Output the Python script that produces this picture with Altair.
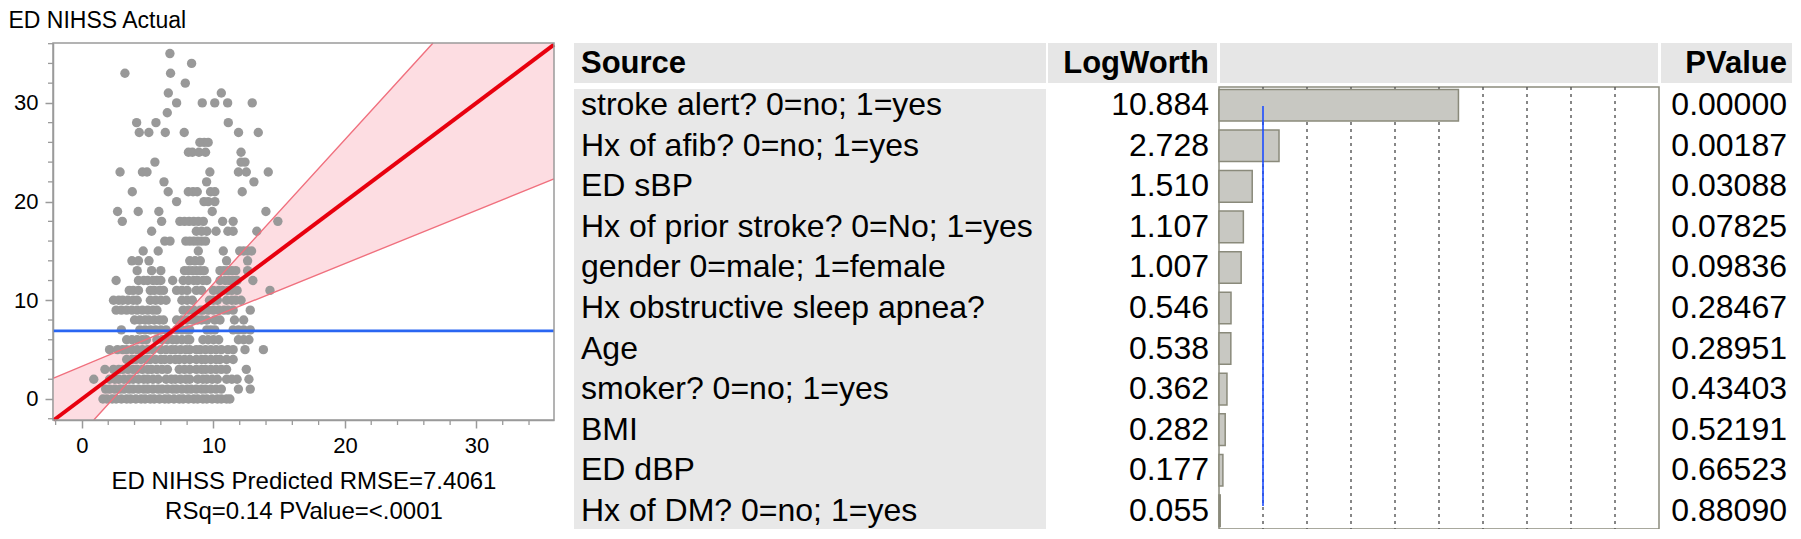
import altair as alt
import pandas as pd

W, H = 1784, 521
FONT = "Liberation Sans"

# ---------------- Actual by Predicted plot ----------------
# predicted values of the points that lie on each integer actual value
pred_at_0 = [1.6, 1.9, 2.3, 2.6, 3.0, 3.4, 3.7, 4.1, 4.5, 4.8, 5.2, 5.5, 5.9, 6.3, 6.6, 7.0, 7.4, 7.7, 8.1, 8.5, 8.8, 9.2, 9.5, 9.9, 10.3, 10.6, 11.0, 11.25]
pred_at_1 = [1.8, 2.1, 2.5, 2.9, 3.2, 3.6, 3.9, 4.3, 4.7, 5.0, 5.4, 5.8, 6.1, 6.5, 6.9, 7.2, 7.6, 8.0, 8.3, 8.7, 9.1, 9.4, 9.8, 10.2, 10.6, 11.9, 12.8]
pred_at_2 = [0.9, 2.1, 2.5, 2.8, 3.2, 3.6, 3.9, 4.3, 4.7, 5.0, 5.4, 5.8, 6.4, 6.8, 7.1, 7.5, 7.9, 8.2, 8.8, 9.2, 9.5, 9.9, 10.3, 11.0, 11.4, 11.8, 12.7]
pred_at_3 = [1.75, 2.4, 2.8, 3.1, 3.5, 3.9, 4.2, 4.6, 5.0, 5.3, 5.7, 6.1, 6.5, 7.4, 7.8, 8.2, 8.7, 9.1, 9.4, 9.8, 10.2, 10.6, 11.0, 12.5]
pred_at_4 = [3.4, 3.8, 4.1, 4.5, 4.9, 5.2, 5.6, 6.0, 6.3, 6.7, 7.1, 7.4, 7.8, 8.2, 8.7, 9.1, 9.4, 9.8, 10.2, 10.5, 11.0, 11.5]
pred_at_5 = [2.1, 2.7, 3.1, 3.4, 3.8, 4.2, 4.6, 5.0, 5.4, 6.0, 6.4, 6.8, 7.1, 7.5, 7.9, 8.2, 8.7, 9.0, 9.4, 9.8, 10.2, 10.6, 11.1, 11.5, 12.4, 13.8]
pred_at_6 = [3.4, 3.8, 4.2, 4.6, 4.9, 5.7, 6.1, 6.5, 6.9, 7.2, 7.6, 8.0, 8.2, 9.2, 9.6, 10.0, 10.4, 11.9, 12.3, 12.7]
pred_at_7 = [3.0, 4.4, 4.8, 5.2, 5.6, 6.0, 6.4, 7.2, 7.6, 8.0, 8.2, 9.5, 9.8, 10.1, 11.5, 11.9, 12.3, 12.8]
pred_at_8 = [4.0, 4.4, 4.8, 5.1, 5.5, 5.9, 6.2, 7.2, 7.6, 8.0, 8.4, 8.8, 9.1, 9.5, 10.1, 10.5, 11.6, 12.3]
pred_at_9 = [2.6, 3.0, 3.4, 3.8, 4.2, 4.6, 5.0, 5.4, 5.7, 7.7, 8.1, 8.5, 9.0, 9.2, 9.6, 10.0, 10.4, 10.8, 11.1, 11.5, 12.8]
pred_at_10 = [2.4, 2.8, 3.1, 3.5, 3.9, 4.2, 5.2, 5.6, 6.0, 6.4, 7.6, 8.0, 8.4, 9.7, 10.0, 10.3, 11.0, 11.4, 11.7, 12.1]
pred_at_11 = [3.6, 3.9, 4.3, 5.2, 5.5, 5.9, 6.2, 7.2, 7.6, 8.0, 8.7, 9.1, 10.0, 10.4, 10.7, 11.1, 11.4, 11.8, 14.3]
pred_at_12 = [2.6, 4.3, 4.7, 5.0, 5.4, 5.7, 6.0, 6.9, 7.7, 8.1, 8.5, 8.8, 9.2, 9.5, 10.5, 10.9, 11.2, 11.5, 11.8, 13.0]
pred_at_13 = [4.2, 5.3, 6.0, 7.8, 8.1, 8.4, 8.7, 9.0, 9.3, 10.5, 10.8, 11.1, 11.4, 11.7, 12.6]
pred_at_14 = [3.8, 4.3, 5.1, 8.2, 8.6, 9.0, 11.0, 12.6]
pred_at_15 = [4.66, 5.8, 8.85, 10.75, 12.0, 12.3, 12.6, 12.9]
pred_at_16 = [6.3, 6.7, 7.9, 8.2, 8.5, 8.8, 9.1, 9.4]
pred_at_17 = [5.3, 8.7, 9.1, 9.5, 10.2, 11.1, 11.5, 13.3]
pred_at_18 = [3.07, 6.06, 7.45, 7.8, 8.15, 8.5, 8.85, 9.23, 10.7, 11.5, 14.9]
pred_at_19 = [2.71, 4.28, 5.85, 9.91, 13.99]
pred_at_20 = [7.2, 9.28, 9.6, 10.11]
pred_at_21 = [3.83, 6.56, 8.09, 8.45, 8.77, 9.78, 10.11, 12.19]
pred_at_22 = [6.24, 9.48, 13.08]
pred_at_23 = [2.9, 4.6, 4.95, 9.73, 11.9, 12.5, 14.17]
pred_at_24 = [5.55, 12.1, 12.4]
pred_at_25 = [8.1, 8.4, 8.9, 9.4, 12.1]
pred_at_26 = [8.97, 9.3, 9.6]
pred_at_27 = [4.36, 5.09, 6.34, 7.78, 11.91, 13.41]
pred_at_28 = [4.16, 5.63, 11.13]
pred_at_29 = [6.49]
pred_at_30 = [7.2, 9.15, 10.1, 11.08, 12.95]
pred_at_31 = [6.57, 10.6]
pred_at_32 = [7.86]
pred_at_33 = [3.27, 6.74]
pred_at_34 = [8.34]
pred_at_35 = [6.69]

pred_rows = [pred_at_0, pred_at_1, pred_at_2, pred_at_3, pred_at_4, pred_at_5, pred_at_6,
             pred_at_7, pred_at_8, pred_at_9, pred_at_10, pred_at_11, pred_at_12, pred_at_13,
             pred_at_14, pred_at_15, pred_at_16, pred_at_17, pred_at_18, pred_at_19, pred_at_20,
             pred_at_21, pred_at_22, pred_at_23, pred_at_24, pred_at_25, pred_at_26, pred_at_27,
             pred_at_28, pred_at_29, pred_at_30, pred_at_31, pred_at_32, pred_at_33, pred_at_34,
             pred_at_35]

x_domain = [-2.2, 35.9]
y_domain = [-2.13, 36.07]
x_major = [0, 10, 20, 30]
y_major = [0, 10, 20, 30]
x_minor = [-2, 2, 4, 6, 8, 12, 14, 16, 18, 22, 24, 26, 28, 32, 34]
y_minor = [-2, 2, 4, 6, 8, 12, 14, 16, 18, 22, 24, 26, 28, 32, 34, 36]

fit_x = [-2.13, 35.9]
fit_y = [-2.13, 35.9]
mean_actual = 6.9

# confidence region (clipped to the frame)
band_x = [-2.2, 0.9, 6.9, 26.7, 35.9]
band_hi = [2.08, 3.72, 7.15, 36.07, 36.07]
band_lo = [-2.13, -2.13, 6.65, 17.4, 22.3]
upper_x = [-2.2, 6.9, 26.7]
upper_y = [2.08, 7.15, 36.07]
lower_x = [0.9, 6.9, 35.9]
lower_y = [-2.13, 6.65, 22.3]

x_title = ["ED NIHSS Predicted RMSE=7.4061", "RSq=0.14 PValue=<.0001"]
y_title = "ED NIHSS Actual"

# ---------------- Effect summary table ----------------
headers = ["Source", "LogWorth", "PValue"]
sources = ["stroke alert? 0=no; 1=yes", "Hx of afib? 0=no; 1=yes", "ED sBP",
           "Hx of prior stroke? 0=No; 1=yes", "gender 0=male; 1=female",
           "Hx obstructive sleep apnea?", "Age", "smoker? 0=no; 1=yes", "BMI",
           "ED dBP", "Hx of DM? 0=no; 1=yes"]
logworth = [10.884, 2.728, 1.510, 1.107, 1.007, 0.546, 0.538, 0.362, 0.282, 0.177, 0.055]
pvalue = [0.00000, 0.00187, 0.03088, 0.07825, 0.09836, 0.28467, 0.28951, 0.43403, 0.52191, 0.66523, 0.88090]
lw_domain = [0, 20]
lw_grid = [2, 4, 6, 8, 10, 12, 14, 16, 18]
lw_ref = [2]

# ---------------- scatter layers ----------------
PLOT_L, PLOT_R, PLOT_T, PLOT_B = 45, 546, 35, 412
pts = pd.DataFrame([{"pred": p, "actual": a} for a, row in enumerate(pred_rows) for p in row])

xs = alt.Scale(domain=x_domain, range=[PLOT_L, PLOT_R], nice=False, zero=False)
ys = alt.Scale(domain=y_domain, range=[PLOT_B, PLOT_T], nice=False, zero=False)
AX = "#9a9a9a"
xaxis = alt.Axis(values=x_major, offset=-(H - PLOT_B), title=x_title, titleFontSize=24,
                 titleFontWeight="normal", titleColor="black", titleLineHeight=30,
                 titleBaseline="alphabetic", titleY=68, labelFontSize=22, labelColor="black",
                 labelPadding=7, tickSize=8, tickColor=AX, tickWidth=1.5, domainColor=AX,
                 domainWidth=1.5, grid=False, labelFont=FONT, titleFont=FONT)
yaxis = alt.Axis(values=y_major, offset=-PLOT_L, title=y_title, titleAngle=0, titleAlign="left",
                 titleBaseline="alphabetic", titleX=-PLOT_L, titleY=19, titleFontSize=23,
                 titleFontWeight="normal", titleColor="black", labelFontSize=22,
                 labelColor="black", labelPadding=7, tickSize=8, tickColor=AX, tickWidth=1.5,
                 domainColor=AX, domainWidth=1.5, grid=False, labelFont=FONT, titleFont=FONT)


def X(f):
    return alt.X(f, type="quantitative", scale=xs, axis=xaxis)


def Y(f):
    return alt.Y(f, type="quantitative", scale=ys, axis=yaxis)


band_df = pd.DataFrame({"bx": band_x, "bhi": band_hi, "blo": band_lo})
band_area = alt.Chart(band_df).mark_area(color="#fddde2", opacity=1).encode(
    x=X("bx"), y=Y("bhi"), y2="blo")

points = alt.Chart(pts).mark_circle(size=88, color="#999999", opacity=1).encode(
    x=X("pred"), y=Y("actual"))

edge_df = pd.DataFrame({"ex": upper_x + lower_x, "ey": upper_y + lower_y,
                        "side": ["upper"] * len(upper_x) + ["lower"] * len(lower_x)})
band_lines = alt.Chart(edge_df).mark_line(color="#f0707e", strokeWidth=1.4).encode(
    x=X("ex"), y=Y("ey"), detail="side:N")

mean_df = pd.DataFrame({"m": [mean_actual], "mx0": [x_domain[0]], "mx1": [x_domain[1]]})
mean_line = alt.Chart(mean_df).mark_rule(color="#2a66f2", strokeWidth=2.8).encode(
    x=X("mx0"), x2="mx1", y=Y("m"))

fit_df = pd.DataFrame({"fx": fit_x, "fy": fit_y})
fit_line = alt.Chart(fit_df).mark_line(color="#e8000e", strokeWidth=4).encode(
    x=X("fx"), y=Y("fy"))

frame_df = pd.DataFrame({"x0": [x_domain[0]], "x1": [x_domain[1]],
                         "y0": [y_domain[0]], "y1": [y_domain[1]]})
frame = alt.Chart(frame_df).mark_rect(fillOpacity=0, stroke=AX, strokeWidth=1.5).encode(
    x=X("x0"), x2="x1", y=Y("y0"), y2="y1")

xminor = alt.Chart(pd.DataFrame({"mx": x_minor})).mark_rule(color=AX, strokeWidth=1.3).encode(
    x=X("mx"), y=alt.value(PLOT_B), y2=alt.value(PLOT_B + 5))
yminor = alt.Chart(pd.DataFrame({"my": y_minor})).mark_rule(color=AX, strokeWidth=1.3).encode(
    y=Y("my"), x=alt.value(PLOT_L - 5), x2=alt.value(PLOT_L))

scatter = alt.layer(band_area, points, band_lines, mean_line, fit_line, frame, xminor, yminor)

# ---------------- table layers ----------------
TOP, BOT = 79, 521
tab = pd.DataFrame({"source": sources, "logworth": logworth, "pvalue": pvalue})
sc_rows = alt.Scale(domain=sources, range=[TOP, BOT], paddingInner=0.22, paddingOuter=0.06)
sc_lw = alt.Scale(domain=lw_domain, range=[1211, 1651], nice=False, zero=True)


def TY():
    return alt.Y("source:N", scale=sc_rows, axis=None, sort=None)


def TX(f):
    return alt.X(f, type="quantitative", scale=sc_lw, axis=None)


one = pd.DataFrame({"k": [0]})


def cell(x0, x1, y0, y1, color):
    return alt.Chart(one).mark_rect(color=color).encode(
        x=alt.value(x0), x2=alt.value(x1), y=alt.value(y0), y2=alt.value(y1))


HEAD = "#e6e6e6"
cells = [cell(566, 1038, 35, 75, HEAD), cell(1040, 1209, 35, 75, HEAD),
         cell(1212, 1650, 35, 75, HEAD), cell(1653, W, 35, 75, HEAD),
         cell(566, 1038, 81, BOT, "#e8e8e8")]

bframe = alt.Chart(pd.DataFrame({"f0": [lw_domain[0]], "f1": [lw_domain[1]]})).mark_rect(
    fill="white", stroke="#8c8c7e", strokeWidth=1.5).encode(
    x=TX("f0"), x2="f1", y=alt.value(TOP), y2=alt.value(BOT))

grid = alt.Chart(pd.DataFrame({"g": lw_grid})).mark_rule(
    color="#555555", strokeDash=[3, 4], strokeWidth=1.4).encode(
    x=TX("g"), y=alt.value(TOP), y2=alt.value(BOT))

bars = alt.Chart(tab).mark_bar(fill="#c8c8c2", stroke="#8a8a7b", strokeWidth=1.5).encode(
    x=TX("logworth"), y=TY())

ref = alt.Chart(pd.DataFrame({"r": lw_ref})).mark_rule(color="#1c4dff", strokeWidth=1.6).encode(
    x=TX("r"), y=alt.value(98), y2=alt.value(498))

FS = 32
src_txt = alt.Chart(tab).mark_text(align="left", baseline="middle", fontSize=FS, font=FONT,
                                   color="black").encode(
    x=alt.value(573), y=TY(), text="source:N")
lw_txt = alt.Chart(tab).mark_text(align="right", baseline="middle", fontSize=FS, font=FONT,
                                  color="black").encode(
    x=alt.value(1201), y=TY(), text=alt.Text("logworth:Q", format=".3f"))
pv_txt = alt.Chart(tab).mark_text(align="right", baseline="middle", fontSize=FS, font=FONT,
                                  color="black").encode(
    x=alt.value(1779), y=TY(), text=alt.Text("pvalue:Q", format=".5f"))


def head_txt(label, x, align):
    return alt.Chart(pd.DataFrame({"h": [label]})).mark_text(
        align=align, baseline="middle", fontSize=31, fontWeight="bold", font=FONT,
        color="black").encode(x=alt.value(x), y=alt.value(56), text="h:N")


heads = [head_txt(headers[0], 573, "left"), head_txt(headers[1], 1201, "right"),
         head_txt(headers[2], 1779, "right")]

table = alt.layer(*cells, bframe, grid, bars, ref, src_txt, lw_txt, pv_txt, *heads)

chart = alt.layer(scatter, table).resolve_scale(
    x="independent", y="independent"
).properties(
    width=W, height=H, autosize=alt.AutoSizeParams(type="none"), padding=0,
    background="white"
).configure_view(stroke=None)

chart.save("out.html", embed_options={"renderer": "svg", "actions": False})
